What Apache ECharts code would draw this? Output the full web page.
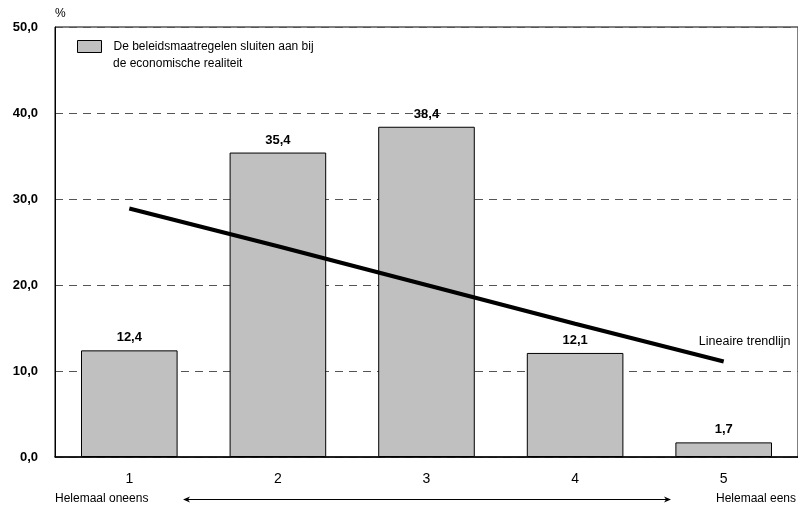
<!DOCTYPE html>
<html><head><meta charset="utf-8">
<script src="https://cdn.jsdelivr.net/npm/echarts@6/dist/echarts.min.js"></script>
<style>html,body{margin:0;padding:0;background:#fff}#c{width:798px;height:510px}</style>
</head><body><div id="c"></div>
<script>
var categories = ['1', '2', '3', '4', '5'];
var barValues = [12.4, 35.4, 38.4, 12.1, 1.7];
var trendValues = [28.9, 24.5, 20.0, 15.5, 11.1];
var yTicks = [0, 10, 20, 30, 40, 50];
var seriesName = 'De beleidsmaatregelen sluiten aan bij';
var seriesName2 = 'de economische realiteit';
var trendName = 'Lineaire trendlijn';

var FONT = 'Liberation Sans, Arial, sans-serif';
function fmt(v){ return v.toFixed(1).replace('.', ','); }

var chart = echarts.init(document.getElementById('c'), null, {renderer:'canvas'});
var trendData = trendValues.map(function(v, i){
  if (i === trendValues.length - 1) {
    return {value: v, label: {show: true, position: 'top', distance: 5, offset: [21, -8],
      formatter: trendName, color: '#000', fontFamily: FONT, fontSize: 12.5}};
  }
  return v;
});
chart.setOption({
  animation: false,
  backgroundColor: '#fff',
  grid: {left: 55, right: -2, top: 27, bottom: 53, show: true, borderColor: '#000', borderWidth: 1},
  legend: {
    data: [{name: seriesName, icon: 'rect'}], left: 77, top: 40, padding: 0,
    itemWidth: 24, itemHeight: 12, itemGap: 10,
    textStyle: {fontFamily: FONT, fontSize: 12, color: '#000', padding: [0,0,0,7]},
    itemStyle: {borderColor: '#000', borderWidth: 1}
  },
  xAxis: {
    type: 'category', data: categories, boundaryGap: true,
    axisLine: {lineStyle: {color: '#000', width: 1.5}},
    axisTick: {show: false},
    axisLabel: {color: '#000', fontFamily: FONT, fontSize: 14, margin: 15}
  },
  yAxis: {
    type: 'value', min: yTicks[0], max: yTicks[yTicks.length-1], interval: 10,
    axisLine: {show: true, lineStyle: {color: '#000', width: 1}},
    axisTick: {show: false},
    axisLabel: {color: '#000', fontFamily: FONT, fontSize: 13, fontWeight: 'bold', margin: 17,
      formatter: function(v){ return fmt(v); }},
    splitLine: {lineStyle: {color: '#555', type: [8, 6], width: 1}}
  },
  series: [
    {
      name: seriesName, type: 'bar', data: barValues, barWidth: '65%',
      itemStyle: {color: '#c0c0c0', borderColor: '#000', borderWidth: 1},
      label: {show: true, position: 'top', distance: 6, color: '#000', fontFamily: FONT,
        fontSize: 13, fontWeight: 'bold', formatter: function(p){ return fmt(p.value); }},
      z: 2
    },
    {
      name: trendName, type: 'line', data: trendData, symbol: 'circle', symbolSize: 0.01, showSymbol: true,
      itemStyle: {color: '#000'},
      lineStyle: {color: '#000', width: 4}, z: 5, silent: true
    }
  ],
  graphic: [
    {type: 'text', left: 55, top: 8, style: {text: '%', font: '12px ' + FONT, fill: '#000'}},
    {type: 'text', left: 113, top: 58, style: {text: seriesName2, font: '12px ' + FONT, fill: '#000'}},
    {type: 'text', left: 55, top: 493, style: {text: 'Helemaal oneens', font: '12px ' + FONT, fill: '#000'}},
    {type: 'text', left: 716, top: 493, style: {text: 'Helemaal eens', font: '12px ' + FONT, fill: '#000'}},
    {type: 'line', shape: {x1: 184, y1: 499.5, x2: 670, y2: 499.5}, style: {stroke: '#000', lineWidth: 1}},
    {type: 'polygon', shape: {points: [[183, 499.5], [190, 496.5], [188, 499.5], [190, 502.5]]}, style: {fill: '#000'}},
    {type: 'polygon', shape: {points: [[671, 499.5], [664, 496.5], [666, 499.5], [664, 502.5]]}, style: {fill: '#000'}}
  ]
});
</script></body></html>
